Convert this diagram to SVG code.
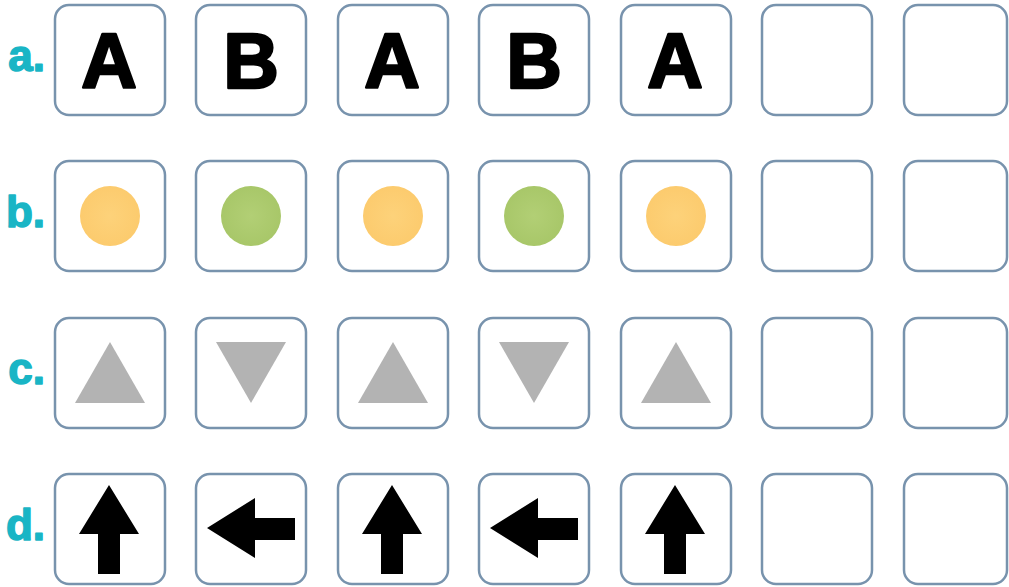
<svg xmlns="http://www.w3.org/2000/svg" width="1009" height="587" viewBox="0 0 1009 587">
<style>
.box{fill:#fff;stroke:#7893ad;stroke-width:2.5}
.lbl{font-family:"Liberation Sans",Arial,sans-serif;font-weight:bold;font-size:44px;fill:#19b5c5;stroke:#19b5c5;stroke-width:1.5;stroke-linejoin:round;text-anchor:end}
.let{font-family:"Liberation Sans",Arial,sans-serif;font-weight:bold;font-size:77px;fill:#000;stroke:#000;stroke-width:2.5;stroke-linejoin:round;text-anchor:middle}
.tri{fill:#b3b3b3}
.arr{fill:#000}
</style>
<defs>
<radialGradient id="go"><stop offset="0" stop-color="#fdd27a"/><stop offset="1" stop-color="#fccb6e"/></radialGradient>
<radialGradient id="gg"><stop offset="0" stop-color="#b2cf75"/><stop offset="1" stop-color="#a8c769"/></radialGradient>
</defs>
<g id="labels">
<text class="lbl" x="45" y="71">a.</text>
<text class="lbl" x="45" y="227">b.</text>
<text class="lbl" x="45" y="384">c.</text>
<text class="lbl" x="45" y="540">d.</text>
</g>
<g id="row-a">
<g id="a1"><rect class="box" x="55" y="5" width="110" height="110" rx="14"/><text class="let" x="109" y="88">A</text></g>
<g id="a2"><rect class="box" x="196" y="5" width="110" height="110" rx="14"/><text class="let" x="251" y="88">B</text></g>
<g id="a3"><rect class="box" x="338" y="5" width="110" height="110" rx="14"/><text class="let" x="392" y="88">A</text></g>
<g id="a4"><rect class="box" x="479" y="5" width="110" height="110" rx="14"/><text class="let" x="534" y="88">B</text></g>
<g id="a5"><rect class="box" x="621" y="5" width="110" height="110" rx="14"/><text class="let" x="675" y="88">A</text></g>
<g id="a6"><rect class="box" x="762" y="5" width="110" height="110" rx="14"/></g>
<g id="a7"><rect class="box" x="904" y="5" width="103" height="110" rx="14"/></g>
</g>
<g id="row-b">
<g id="b1"><rect class="box" x="55" y="161" width="110" height="110" rx="14"/><circle cx="110" cy="216" r="30" fill="url(#go)"/></g>
<g id="b2"><rect class="box" x="196" y="161" width="110" height="110" rx="14"/><circle cx="251" cy="216" r="30" fill="url(#gg)"/></g>
<g id="b3"><rect class="box" x="338" y="161" width="110" height="110" rx="14"/><circle cx="393" cy="216" r="30" fill="url(#go)"/></g>
<g id="b4"><rect class="box" x="479" y="161" width="110" height="110" rx="14"/><circle cx="534" cy="216" r="30" fill="url(#gg)"/></g>
<g id="b5"><rect class="box" x="621" y="161" width="110" height="110" rx="14"/><circle cx="676" cy="216" r="30" fill="url(#go)"/></g>
<g id="b6"><rect class="box" x="762" y="161" width="110" height="110" rx="14"/></g>
<g id="b7"><rect class="box" x="904" y="161" width="103" height="110" rx="14"/></g>
</g>
<g id="row-c">
<g id="c1"><rect class="box" x="55" y="318" width="110" height="110" rx="14"/><polygon class="tri" points="110,342 75,403 145,403"/></g>
<g id="c2"><rect class="box" x="196" y="318" width="110" height="110" rx="14"/><polygon class="tri" points="216,342 286,342 251,403"/></g>
<g id="c3"><rect class="box" x="338" y="318" width="110" height="110" rx="14"/><polygon class="tri" points="393,342 358,403 428,403"/></g>
<g id="c4"><rect class="box" x="479" y="318" width="110" height="110" rx="14"/><polygon class="tri" points="499,342 569,342 534,403"/></g>
<g id="c5"><rect class="box" x="621" y="318" width="110" height="110" rx="14"/><polygon class="tri" points="676,342 641,403 711,403"/></g>
<g id="c6"><rect class="box" x="762" y="318" width="110" height="110" rx="14"/></g>
<g id="c7"><rect class="box" x="904" y="318" width="103" height="110" rx="14"/></g>
</g>
<g id="row-d">
<g id="d1"><rect class="box" x="55" y="474" width="110" height="110" rx="14"/><polygon class="arr" points="109,485 139,534 120,534 120,574 98,574 98,534 79,534"/></g>
<g id="d2"><rect class="box" x="196" y="474" width="110" height="110" rx="14"/><polygon class="arr" points="207,528 255,498 255,518 295,518 295,540 255,540 255,558"/></g>
<g id="d3"><rect class="box" x="338" y="474" width="110" height="110" rx="14"/><polygon class="arr" points="392,485 422,534 403,534 403,574 381,574 381,534 362,534"/></g>
<g id="d4"><rect class="box" x="479" y="474" width="110" height="110" rx="14"/><polygon class="arr" points="490,528 538,498 538,518 578,518 578,540 538,540 538,558"/></g>
<g id="d5"><rect class="box" x="621" y="474" width="110" height="110" rx="14"/><polygon class="arr" points="675,485 705,534 686,534 686,574 664,574 664,534 645,534"/></g>
<g id="d6"><rect class="box" x="762" y="474" width="110" height="110" rx="14"/></g>
<g id="d7"><rect class="box" x="904" y="474" width="103" height="110" rx="14"/></g>
</g>
<g id="connectors"/>
</svg>
